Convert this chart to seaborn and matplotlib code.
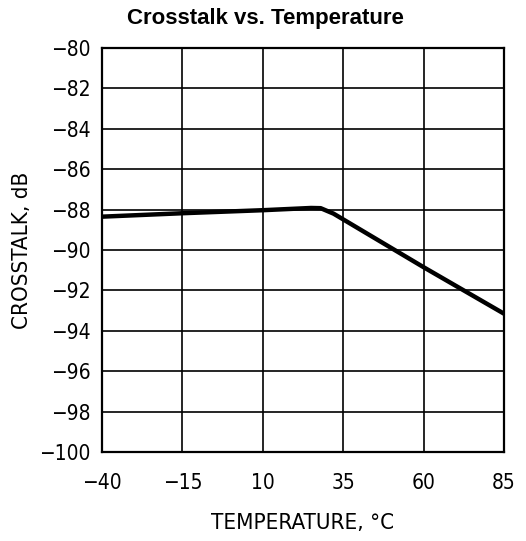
import matplotlib
matplotlib.use("Agg")
import matplotlib.pyplot as plt
import seaborn as sns
import pandas as pd

# Crosstalk measured over temperature
temperature_c = [-40, -15, 10, 25, 28, 32, 60, 85]
crosstalk_db = [-88.35, -88.18, -88.03, -87.92, -87.93, -88.2, -90.85, -93.15]

x_ticks = [-40, -15, 10, 35, 60, 85]
y_ticks = [-80, -82, -84, -86, -88, -90, -92, -94, -96, -98, -100]

sns.set_theme(style="white")
plt.rcParams["font.family"] = ["DejaVu Sans"]
plt.rcParams["font.stretch"] = "condensed"

df = pd.DataFrame({"Temperature": temperature_c, "Crosstalk": crosstalk_db})

fig = plt.figure(figsize=(5.26, 5.41), dpi=100)
ax = fig.add_axes([0.194, 0.1645, 0.764, 0.7468])

sns.lineplot(data=df, x="Temperature", y="Crosstalk", ax=ax,
             color="black", linewidth=3.2, zorder=3)

ax.set_xlim(-40, 85)
ax.set_ylim(-100, -80)
ax.set_xticks(x_ticks)
ax.set_yticks(y_ticks)
ax.set_xticklabels([str(v).replace("-", "\u2212") for v in x_ticks])
ax.set_yticklabels([str(v).replace("-", "\u2212") for v in y_ticks])
ax.grid(True, color="black", linewidth=1.2)
ax.set_axisbelow(True)
for s in ax.spines.values():
    s.set_color("black")
    s.set_linewidth(1.6)
ax.tick_params(axis="both", length=0, labelsize=15, colors="black")
ax.tick_params(axis="x", pad=15)
ax.tick_params(axis="y", pad=8.5)

ax.set_xlabel("TEMPERATURE, \u00b0C", fontsize=16, color="black")
ax.xaxis.set_label_coords(0.5, -0.151)
ax.set_ylabel("CROSSTALK, dB", fontsize=16, color="black")
ax.yaxis.set_label_coords(-0.174, 0.5)
fig.text(0.504, 0.966, "Crosstalk vs. Temperature", ha="center", va="center",
         fontsize=16, fontweight="bold", family="Liberation Sans",
         fontstretch="normal", color="black")

fig.savefig("out.png", dpi=100)
